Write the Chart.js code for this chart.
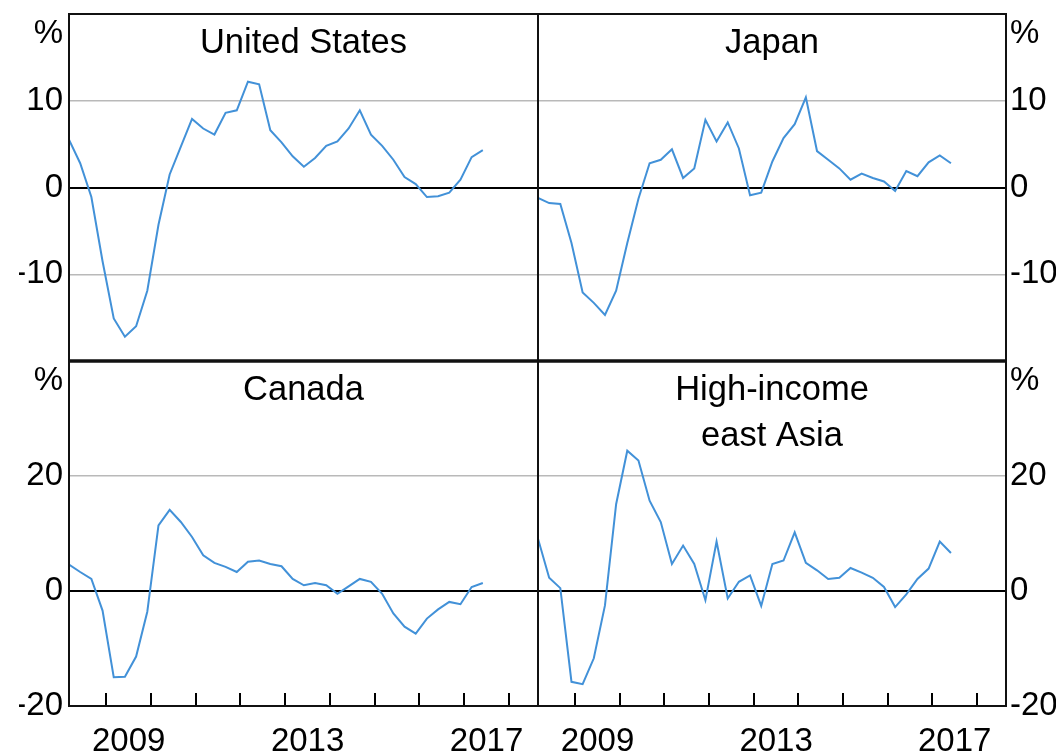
<!DOCTYPE html>
<html>
<head>
<meta charset="utf-8">
<script src="https://cdn.jsdelivr.net/npm/chart.js@4/dist/chart.umd.min.js"></script>
<style>
  html, body { margin: 0; padding: 0; background: #ffffff; }
  #wrap { position: relative; width: 1062px; height: 756px; overflow: hidden; background: #fff; }
  #wrap canvas { position: absolute; left: 0; top: 0; }
</style>
</head>
<body>
<div id="wrap">
  <canvas id="c1" width="1062" height="756"></canvas>
  <canvas id="c2" width="1062" height="756"></canvas>
  <canvas id="c3" width="1062" height="756"></canvas>
  <canvas id="c4" width="1062" height="756"></canvas>
</div>
<script>
// ---------------- DATA ----------------
const quarters = [
  '2008-Q1','2008-Q2','2008-Q3','2008-Q4',
  '2009-Q1','2009-Q2','2009-Q3','2009-Q4',
  '2010-Q1','2010-Q2','2010-Q3','2010-Q4',
  '2011-Q1','2011-Q2','2011-Q3','2011-Q4',
  '2012-Q1','2012-Q2','2012-Q3','2012-Q4',
  '2013-Q1','2013-Q2','2013-Q3','2013-Q4',
  '2014-Q1','2014-Q2','2014-Q3','2014-Q4',
  '2015-Q1','2015-Q2','2015-Q3','2015-Q4',
  '2016-Q1','2016-Q2','2016-Q3','2016-Q4',
  '2017-Q1','2017-Q2'
];

const usValues = [5.5, 2.8, -1.1, -8.5, -15.1, -17.2, -16.0, -11.9, -4.3, 1.5, 4.7, 7.9, 6.8, 6.1, 8.6, 8.9, 12.2, 11.9, 6.6, 5.2, 3.6, 2.4, 3.4, 4.8, 5.3, 6.8, 8.9, 6.1, 4.8, 3.2, 1.2, 0.4, -1.1, -1.0, -0.6, 0.9, 3.5, 4.3];
const japanValues = [-1.2, -1.8, -1.9, -6.4, -12.1, -13.3, -14.7, -11.9, -6.4, -1.3, 2.8, 3.2, 4.4, 1.1, 2.2, 7.8, 5.3, 7.5, 4.5, -0.9, -0.6, 3.0, 5.7, 7.3, 10.4, 4.2, 3.2, 2.2, 0.9, 1.6, 1.1, 0.7, -0.4, 1.9, 1.3, 2.9, 3.7, 2.8];
const canadaValues = [4.6, 3.3, 2.1, -3.4, -15.0, -14.9, -11.4, -3.6, 11.4, 14.1, 12.0, 9.4, 6.2, 4.9, 4.2, 3.3, 5.1, 5.3, 4.7, 4.3, 2.1, 1.0, 1.4, 1.0, -0.5, 0.8, 2.1, 1.6, -0.5, -3.9, -6.2, -7.4, -4.8, -3.2, -1.9, -2.3, 0.7, 1.4];
const asiaValues = [9.1, 2.3, 0.5, -15.8, -16.2, -11.7, -2.5, 15.1, 24.4, 22.7, 15.7, 12.0, 4.7, 7.9, 4.7, -1.6, 8.6, -1.3, 1.6, 2.7, -2.6, 4.7, 5.3, 10.2, 4.9, 3.6, 2.1, 2.3, 4.0, 3.2, 2.3, 0.7, -2.8, -0.6, 2.1, 3.9, 8.6, 6.6];

const titleUS = ['United States'];
const titleJapan = ['Japan'];
const titleCanada = ['Canada'];
const titleAsia = ['High-income', 'east Asia'];

const topYTicks = [-20, -10, 0, 10, 20];
const topYLabels = [-10, 0, 10];
const bottomYTicks = [-20, 0, 20, 40];
const bottomYLabels = [-20, 0, 20];
const yearBoundaries = [2009, 2010, 2011, 2012, 2013, 2014, 2015, 2016, 2017, 2018];
const yearLabels = ['2009', '2013', '2017'];
const axisEnd = 2018.65;
const unitLabel = '%';

// ---------------- HELPERS ----------------
function quarterToYear(q) {
  const parts = q.split('-Q');
  return Number(parts[0]) + (Number(parts[1]) * 3 - 1) / 12;
}
const xStart = quarterToYear(quarters[0]);

const FONT = '"Liberation Sans", Arial, sans-serif';
const FSIZE = 33;
const TITLE_SIZE = 34.5;
const LINE_COLOR = '#4291d8';

const panelPlugin = {
  id: 'panelDeco',
  afterDraw(chart, args, opts) {
    const ctx = chart.ctx;
    const a = chart.chartArea;
    ctx.save();
    if (opts.showYears) {
      const xs = chart.scales.x;
      ctx.strokeStyle = '#000';
      ctx.lineWidth = 2;
      yearBoundaries.forEach(v => {
        const px = Math.round(xs.getPixelForValue(v));
        ctx.beginPath();
        ctx.moveTo(px, a.bottom);
        ctx.lineTo(px, a.bottom - 13);
        ctx.stroke();
      });
    }
    ctx.strokeStyle = '#111';
    ctx.lineWidth = 2;
    ctx.strokeRect(a.left, a.top, a.right - a.left, a.bottom - a.top);
    if (opts.thickBottom) {
      ctx.lineWidth = 3.5;
      ctx.beginPath();
      ctx.moveTo(a.left - 1, a.bottom);
      ctx.lineTo(a.right + 1, a.bottom);
      ctx.stroke();
    }
    ctx.fillStyle = '#000';
    ctx.font = TITLE_SIZE + 'px ' + FONT;
    ctx.textAlign = 'center';
    ctx.textBaseline = 'alphabetic';
    const cx = (a.left + a.right) / 2;
    opts.title.forEach((line, i) => {
      ctx.fillText(line, cx, a.top + 39 + i * 46);
    });
    ctx.font = FSIZE + 'px ' + FONT;
    if (opts.side === 'left') {
      ctx.textAlign = 'right';
      ctx.fillText(unitLabel, a.left - 6, a.top + 29);
    } else {
      ctx.textAlign = 'left';
      ctx.fillText(unitLabel, a.right + 4, a.top + 29);
    }
    ctx.restore();
  }
};

function makePanel(canvasId, values, title, side, row) {
  const isTop = row === 'top';
  const yTicks = isTop ? topYTicks : bottomYTicks;
  const yShown = isTop ? topYLabels : bottomYLabels;
  const yMin = yTicks[0];
  const yMax = yTicks[yTicks.length - 1];
  const AXW = 50;
  const padding = {
    left: side === 'left' ? 69 - AXW : 538,
    right: side === 'left' ? 1062 - 538 : 1062 - 1006 - AXW,
    top: isTop ? 14 : 361,
    bottom: isTop ? 756 - 361 : 0
  };
  const points = quarters.map((q, i) => ({ x: quarterToYear(q), y: values[i] }));
  return new Chart(document.getElementById(canvasId), {
    type: 'line',
    data: {
      datasets: [{
        data: points,
        borderColor: LINE_COLOR,
        borderWidth: 2,
        pointRadius: 0,
        tension: 0,
        fill: false
      }]
    },
    options: {
      responsive: false,
      animation: false,
      events: [],
      layout: { padding: padding },
      plugins: {
        legend: { display: false },
        tooltip: { enabled: false },
        title: { display: false },
        panelDeco: { title: title, side: side, showYears: !isTop, thickBottom: isTop }
      },
      scales: {
        x: {
          type: 'linear',
          min: xStart,
          max: axisEnd,
          display: !isTop,
          grid: { display: false, drawTicks: false },
          border: { display: false },
          afterBuildTicks: (scale) => {
            scale.ticks = yearLabels.map(l => ({ value: Number(l) + 0.5 }));
          },
          afterFit: (scale) => {
            scale.height = isTop ? 0 : 50;
            scale.paddingLeft = 0; scale.paddingRight = 0;
          },
          ticks: {
            autoSkip: false,
            maxRotation: 0,
            padding: 16,
            color: '#000',
            font: { family: FONT, size: FSIZE },
            callback: (v) => String(Math.floor(v))
          }
        },
        y: {
          type: 'linear',
          position: side,
          min: yMin,
          max: yMax,
          afterBuildTicks: (scale) => {
            scale.ticks = yTicks.map(v => ({ value: v }));
          },
          afterFit: (scale) => {
            scale.width = AXW;
            scale.paddingTop = 0; scale.paddingBottom = 0;
          },
          grid: {
            drawTicks: false,
            lineWidth: (c) => (c.tick && c.tick.value === 0) ? 2 : 1.5,
            color: (c) => {
              const v = c.tick ? c.tick.value : null;
              if (v === 0) return '#000';
              if (v === yMin || v === yMax) return 'rgba(0,0,0,0)';
              return '#b9b9b9';
            }
          },
          border: { display: false },
          ticks: {
            padding: side === 'left' ? 6 : 4,
            color: '#000',
            font: { family: FONT, size: FSIZE },
            callback: (v) => yShown.includes(v) ? String(v) : ''
          }
        }
      }
    },
    plugins: [panelPlugin]
  });
}

makePanel('c1', usValues, titleUS, 'left', 'top');
makePanel('c2', japanValues, titleJapan, 'right', 'top');
makePanel('c3', canadaValues, titleCanada, 'left', 'bottom');
makePanel('c4', asiaValues, titleAsia, 'right', 'bottom');
</script>
</body>
</html>
